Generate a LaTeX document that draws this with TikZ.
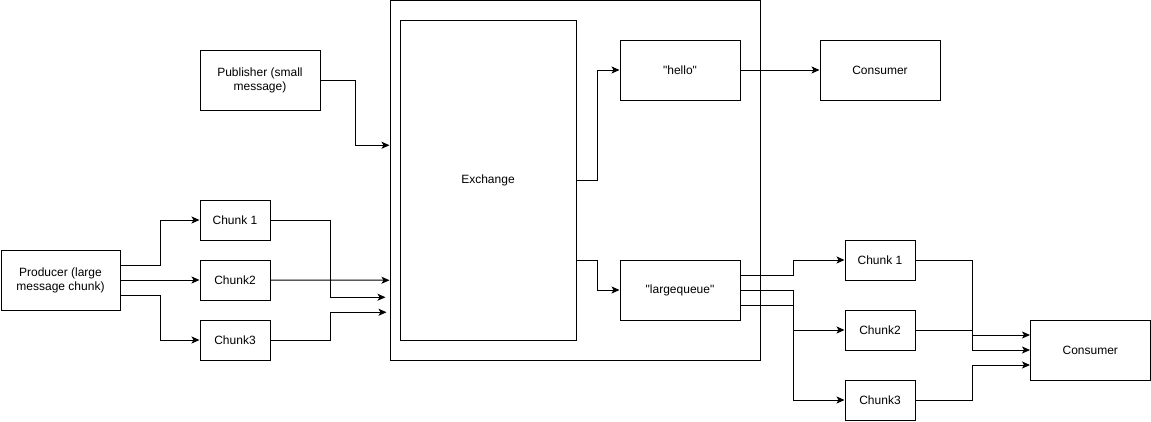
\documentclass[tikz,border=0pt]{standalone}
\usepackage{fontspec}
\setmainfont{Liberation Sans}[Ligatures=TeXOff]
\usetikzlibrary{arrows.meta,calc}
\begin{document}
\begin{tikzpicture}[x=1pt,y=-1pt,
  box/.style={draw=black,line width=1pt,fill=white,inner sep=2pt,align=center,
    font=\fontsize{12pt}{14pt}\selectfont},
  arr/.style={draw=black,line width=1pt,-{Stealth[length=8pt,width=7pt,inset=2pt]}}]
\useasboundingbox (0,0) rectangle (1151,421);
% container and exchange
\node[box,minimum width=370pt,minimum height=359.5pt] (outer) at (575,180.25) {};
\node[box,minimum width=176pt,minimum height=320pt] (ex) at (488,180) {Exchange};
% left side
\node[box,minimum width=120pt,minimum height=60pt] (pub) at (260,80) {Publisher (small\\message)};
\node[box,minimum width=119pt,minimum height=60pt] (prod) at (60.5,280) {Producer (large\\message chunk)};
\node[box,minimum width=70pt,minimum height=40pt] (c1) at (235,220) {Chunk 1};
\node[box,minimum width=70pt,minimum height=40pt] (c2) at (235,280) {Chunk2};
\node[box,minimum width=70pt,minimum height=40pt] (c3) at (235,340) {Chunk3};
% queues
\node[box,minimum width=120pt,minimum height=60pt] (hello) at (680,70) {"hello"};
\node[box,minimum width=120pt,minimum height=60pt] (lq) at (680,290) {"largequeue"};
% right side
\node[box,minimum width=120pt,minimum height=60pt] (cons1) at (880,70) {Consumer};
\node[box,minimum width=70pt,minimum height=40pt] (rc1) at (880,260) {Chunk 1};
\node[box,minimum width=70pt,minimum height=40pt] (rc2) at (880,330) {Chunk2};
\node[box,minimum width=70pt,minimum height=40pt] (rc3) at (880,400) {Chunk3};
\node[box,minimum width=119.5pt,minimum height=60pt] (cons2) at (1090.25,350) {Consumer};
% connectors
\draw[arr] (pub.east) -- ++(35pt,0) |- ([yshift=35pt]outer.west);
\draw[arr] ([yshift=15pt]prod.east) -- ++(40pt,0) |- (c1.west);
\draw[arr] (prod.east) -- (c2.west);
\draw[arr] ([yshift=-15pt]prod.east) -- ++(40pt,0) |- (c3.west);
\draw[arr] (c1.east) -- ++(60pt,0) |- ([yshift=-117pt,xshift=-4pt]outer.west);
\draw[arr] (c2.east) -- ([yshift=-100pt]outer.west);
\draw[arr] (c3.east) -- ++(60pt,0) |- ([yshift=-132pt,xshift=-3pt]outer.west);
\draw[arr] (ex.east) -- ++(21pt,0) |- (hello.west);
\draw[arr] ([yshift=-80pt]ex.east) -- ++(21pt,0) |- (lq.west);
\draw[arr] (hello.east) -- (cons1.west);
\draw[arr] ([yshift=15pt]lq.east) -- ++(53pt,0) |- (rc1.west);
\draw[arr] (lq.east) -- ++(53pt,0) |- (rc2.west);
\draw[arr] ([yshift=-15pt]lq.east) -- ++(53pt,0) |- (rc3.west);
\draw[arr] (rc1.east) -- ++(57pt,0) |- (cons2.west);
\draw[arr] (rc2.east) -- ++(57pt,0) |- ([yshift=15pt]cons2.west);
\draw[arr] (rc3.east) -- ++(57pt,0) |- ([yshift=-15pt]cons2.west);
\end{tikzpicture}
\end{document}
